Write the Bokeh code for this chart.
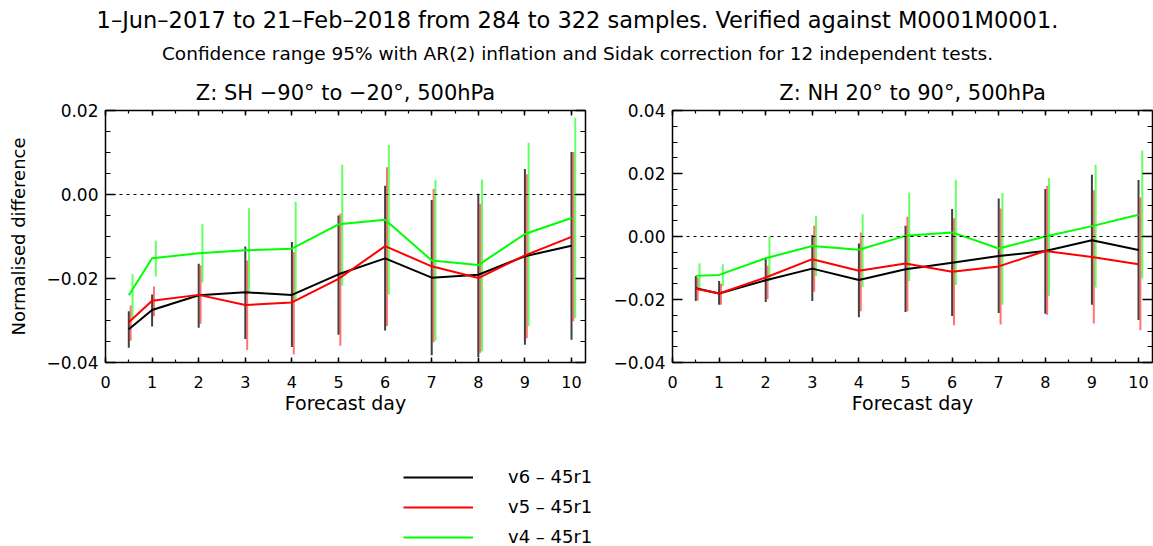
from bokeh.plotting import figure
from bokeh.models import (Range1d, LinearAxis, SingleIntervalTicker, Span,
                          CustomJSTickFormatter, Legend, LegendItem)
from bokeh.layouts import column, row
from bokeh.core.properties import value
from bokeh.embed import file_html
from bokeh.resources import INLINE

# ---------------- data ----------------
main_title = "1\u2013Jun\u20132017 to 21\u2013Feb\u20132018 from 284 to 322 samples. Verified against M0001M0001."
sub_title = "Confidence range 95% with AR(2) inflation and Sidak correction for 12 independent tests."
sh_title = "Z: SH \u221290\u00b0 to \u221220\u00b0, 500hPa"
nh_title = "Z: NH 20\u00b0 to 90\u00b0, 500hPa"
series_labels = ["v6 \u2013 45r1", "v5 \u2013 45r1", "v4 \u2013 45r1"]
series_colors = ["#000000", "#ff0000", "#00ff00"]

days = [0.5, 1, 2, 3, 4, 5, 6, 7, 8, 9, 10]

sh_v6 = [-0.0321, -0.0275, -0.0240, -0.0233, -0.0239, -0.0190, -0.0152, -0.0198, -0.0191, -0.0147, -0.0122]
sh_v5 = [-0.0304, -0.0253, -0.0239, -0.0263, -0.0257, -0.0201, -0.0123, -0.0171, -0.0199, -0.0145, -0.0101]
sh_v4 = [-0.0240, -0.0152, -0.0140, -0.0133, -0.0129, -0.0071, -0.0060, -0.0157, -0.0168, -0.0094, -0.0056]
sh_v6_lo = [-0.0365, -0.0314, -0.0317, -0.0344, -0.0363, -0.0334, -0.0324, -0.0383, -0.0387, -0.0358, -0.0346]
sh_v6_hi = [-0.0278, -0.0238, -0.0165, -0.0124, -0.0113, -0.0050, 0.0021, -0.0013, 0.0002, 0.0061, 0.0101]
sh_v5_lo = [-0.0348, -0.0290, -0.0308, -0.0370, -0.0381, -0.0360, -0.0313, -0.0352, -0.0377, -0.0342, -0.0302]
sh_v5_hi = [-0.0264, -0.0219, -0.0169, -0.0157, -0.0137, -0.0046, 0.0065, 0.0013, -0.0022, 0.0048, 0.0101]
sh_v4_lo = [-0.0292, -0.0195, -0.0209, -0.0235, -0.0252, -0.0217, -0.0238, -0.0348, -0.0373, -0.0313, -0.0294]
sh_v4_hi = [-0.0190, -0.0110, -0.0071, -0.0033, -0.0017, 0.0071, 0.0118, 0.0035, 0.0036, 0.0123, 0.0183]

nh_v6 = [-0.0164, -0.0181, -0.0139, -0.0102, -0.0138, -0.0104, -0.0083, -0.0062, -0.0046, -0.0012, -0.0043]
nh_v5 = [-0.0166, -0.0181, -0.0130, -0.0072, -0.0109, -0.0086, -0.0112, -0.0095, -0.0046, -0.0065, -0.0088]
nh_v4 = [-0.0125, -0.0122, -0.0069, -0.0030, -0.0042, 0.0002, 0.0013, -0.0038, 0.0000, 0.0033, 0.0069]
nh_v6_lo = [-0.0205, -0.0217, -0.0208, -0.0205, -0.0256, -0.0240, -0.0252, -0.0243, -0.0245, -0.0217, -0.0265]
nh_v6_hi = [-0.0125, -0.0141, -0.0069, 0.0005, -0.0022, 0.0034, 0.0087, 0.0121, 0.0151, 0.0196, 0.0179]
nh_v5_lo = [-0.0203, -0.0217, -0.0199, -0.0175, -0.0237, -0.0237, -0.0282, -0.0279, -0.0249, -0.0276, -0.0298]
nh_v5_hi = [-0.0130, -0.0150, -0.0093, 0.0034, 0.0013, 0.0063, 0.0058, 0.0089, 0.0161, 0.0147, 0.0124]
nh_v4_lo = [-0.0166, -0.0159, -0.0141, -0.0125, -0.0160, -0.0141, -0.0154, -0.0217, -0.0189, -0.0162, -0.0133]
nh_v4_hi = [-0.0085, -0.0088, 0.0000, 0.0066, 0.0071, 0.0140, 0.0180, 0.0138, 0.0186, 0.0228, 0.0273]

# ---------------- style ----------------
FONT = "DejaVu Sans"
BAR_OFFSETS = [0.0, 0.04, 0.08]
BAR_ALPHA = [0.75, 0.55, 0.6]

yfmt = CustomJSTickFormatter(code="""
if (Math.abs(tick) < 1e-9) { return '0.00'; }
return (tick < 0 ? '\\u2212' : '') + Math.abs(tick).toFixed(2);
""")


def style_axis(ax, major_in, minor_in, labels=True, size="17px"):
    ax.axis_line_color = "black"
    ax.axis_line_width = 1.5
    ax.major_tick_in = major_in
    ax.major_tick_out = 0
    ax.minor_tick_in = minor_in
    ax.minor_tick_out = 0
    ax.major_tick_line_color = "black"
    ax.minor_tick_line_color = "black"
    ax.major_tick_line_width = 1.5
    ax.minor_tick_line_width = 1.2
    if labels:
        ax.major_label_text_font = FONT
        ax.major_label_text_font_size = size
        ax.major_label_text_color = "black"
    else:
        ax.major_label_text_font_size = "0px"
        ax.major_label_text_color = None
        ax.major_label_standoff = 0


def make_panel(title, yr, bl, br, width, lines, los, his, ylabel=None):
    p = figure(width=width, height=350, x_range=Range1d(0, 10.3), y_range=Range1d(*yr),
               output_backend="svg", toolbar_location=None,
               min_border_left=bl, min_border_right=br, min_border_top=40, min_border_bottom=58)
    p.grid.visible = False
    p.outline_line_color = None
    p.background_fill_color = "white"
    p.border_fill_color = "white"

    xt = SingleIntervalTicker(interval=1, num_minor_ticks=2)
    yt = SingleIntervalTicker(interval=0.02, num_minor_ticks=4)

    xb = p.xaxis[0]
    xb.ticker = xt
    style_axis(xb, 5, 3, size="16px")
    xb.major_label_standoff = 13
    xb.axis_label = "Forecast day"
    xb.axis_label_text_font = FONT
    xb.axis_label_text_font_size = "19px"
    xb.axis_label_text_font_style = "normal"
    xb.axis_label_text_color = "black"
    xb.axis_label_standoff = 1

    yl = p.yaxis[0]
    yl.ticker = yt
    yl.formatter = yfmt
    style_axis(yl, 10, 5)
    yl.major_label_standoff = 7
    if ylabel:
        yl.axis_label = ylabel
        yl.axis_label_text_font = FONT
        yl.axis_label_text_font_size = "18px"
        yl.axis_label_text_font_style = "normal"
        yl.axis_label_text_color = "black"
        yl.axis_label_standoff = 14

    xa = LinearAxis(ticker=xt)
    style_axis(xa, 5, 3, labels=False)
    p.add_layout(xa, "above")
    yr_ax = LinearAxis(ticker=yt)
    style_axis(yr_ax, 10, 5, labels=False)
    p.add_layout(yr_ax, "right")

    p.title.text = title
    p.title.align = "center"
    p.title.text_font = FONT
    p.title.text_font_size = "21px"
    p.title.text_font_style = "normal"
    p.title.text_color = "black"
    p.title.standoff = 11

    p.add_layout(Span(location=0, dimension="width", line_color="black",
                      line_width=1, line_dash="3 4"))

    for k in range(3):
        xs = [d + BAR_OFFSETS[k] for d in days]
        p.segment(x0=xs, y0=los[k], x1=xs, y1=his[k], line_color=series_colors[k],
                  line_alpha=BAR_ALPHA[k], line_width=2)
    for k in range(3):
        p.line(days, lines[k], line_color=series_colors[k], line_width=2)
    return p


pl = make_panel(sh_title, (-0.04, 0.02), 105, 15, 600,
                [sh_v6, sh_v5, sh_v4], [sh_v6_lo, sh_v5_lo, sh_v4_lo],
                [sh_v6_hi, sh_v5_hi, sh_v4_hi], ylabel="Normalised difference")
pr = make_panel(nh_title, (-0.04, 0.04), 72, 1, 553,
                [nh_v6, nh_v5, nh_v4], [nh_v6_lo, nh_v5_lo, nh_v4_lo],
                [nh_v6_hi, nh_v5_hi, nh_v4_hi])

# header
hd = figure(width=1153, height=70, x_range=Range1d(0, 1153), y_range=Range1d(70, 0),
            output_backend="svg", toolbar_location=None, min_border=0,
            x_axis_location=None, y_axis_location=None)
hd.grid.visible = False
hd.outline_line_color = None
hd.text(x=[577], y=[19], text=[main_title], text_align="center", text_baseline="middle",
        text_font=value(FONT), text_font_size="22.5px", text_color="black")
hd.text(x=[577], y=[53], text=[sub_title], text_align="center", text_baseline="middle",
        text_font=value(FONT), text_font_size="18.5px", text_color="black")

# legend (sample lines come from real line renderers kept outside the visible range)
lg = figure(width=1153, height=126, x_range=Range1d(0, 10.3), y_range=Range1d(1, 2),
            output_backend="svg", toolbar_location=None, min_border=0,
            x_axis_location=None, y_axis_location=None)
lg.grid.visible = False
lg.outline_line_color = None
items = []
for k, ser in enumerate([sh_v6, sh_v5, sh_v4]):
    r = lg.line(days, ser, line_color=series_colors[k], line_width=2)
    items.append(LegendItem(label=series_labels[k], renderers=[r]))
legend = Legend(items=items, location=(403, -1), orientation="vertical",
                glyph_width=70, glyph_height=20, label_height=20, label_width=10,
                label_standoff=35, spacing=9, padding=0, margin=0,
                border_line_color=None, background_fill_alpha=0,
                label_text_font=FONT, label_text_font_size="18px", label_text_color="black")
lg.add_layout(legend)

layout = column(hd, row(pl, pr), lg)
open("out.html", "w").write(file_html(layout, INLINE))
